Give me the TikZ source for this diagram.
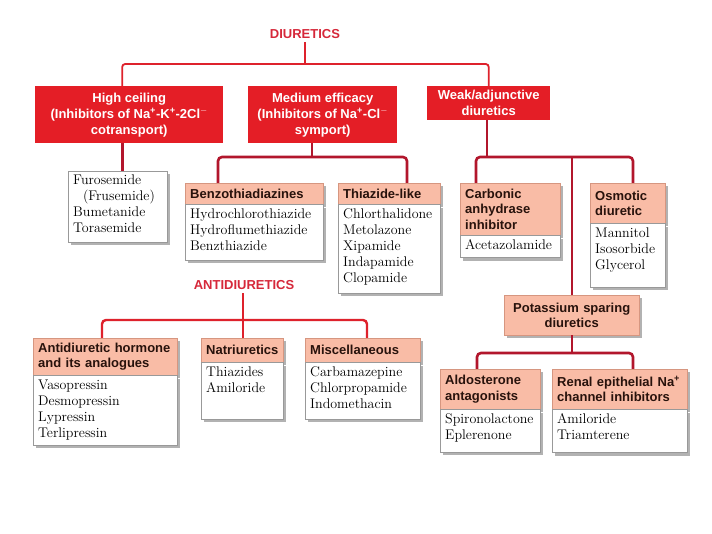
\documentclass[tikz,border=0pt]{standalone}
\usepackage{fontspec}
\setsansfont{Liberation Sans}
\usetikzlibrary{shadows}
\definecolor{diured}{RGB}{228,30,38}
\definecolor{linkred}{RGB}{178,22,44}
\definecolor{toplinkred}{RGB}{222,34,44}
\definecolor{titlered}{RGB}{214,40,58}
\definecolor{salmon}{RGB}{249,188,166}
\definecolor{salmonedge}{RGB}{214,150,128}
\definecolor{headtext}{RGB}{40,18,12}
\newcommand{\padb}[1]{\rule[-#1]{0pt}{#1}}
\tikzset{
    boxshadow/.style={drop shadow={shadow xshift=3pt, shadow yshift=-3pt, fill=black!30, opacity=1}},
    redbox/.style={rectangle, fill=diured, text=white, align=center, anchor=north west, inner sep=2pt, font=\sffamily\bfseries\fontsize{13}{16}\selectfont},
    headbox/.style={rectangle, draw=salmonedge, fill=salmon, text=headtext, align=left, anchor=north west, inner xsep=5pt, inner ysep=3pt, boxshadow, font=\sffamily\bfseries\fontsize{13}{15.5}\selectfont},
    listbox/.style={rectangle, draw=black!40, fill=white, text=black, align=left, anchor=north west, inner xsep=5pt, inner ysep=4pt, boxshadow, font=\fontsize{14}{16}\selectfont},
    titletext/.style={text=titlered, font=\sffamily\bfseries\fontsize{13}{15}\selectfont}
}
\begin{document}
\begin{tikzpicture}[x=1pt, y=-1pt,
    link/.style={draw=linkred, line width=2.6pt, rounded corners=4pt},
    toplink/.style={draw=toplinkred, line width=1.8pt, rounded corners=3pt},
    antilink/.style={draw=toplinkred, line width=2.4pt, rounded corners=4pt}
]
    \useasboundingbox[fill=white] (0,0) rectangle (712,534);

    % Diuretics: first level
    \node[titletext] (diur) at (305,34) {DIURETICS};
    \node[redbox, minimum width=188pt, minimum height=57pt] (high) at (35,86) {High ceiling\\(Inhibitors of Na\textsuperscript{+}-K\textsuperscript{+}-2Cl\textsuperscript{$-$}\\cotransport)};
    \node[redbox, minimum width=149pt, minimum height=57pt] (medium) at (248,86) {Medium efficacy\\(Inhibitors of Na\textsuperscript{+}-Cl\textsuperscript{$-$}\\symport)};
    \node[redbox, minimum width=123pt, minimum height=34pt] (weak) at (427,86) {Weak/adjunctive\\diuretics};

    \coordinate (dj) at (305,64);
    \draw[toplink] (diur.south) -- (dj);
    \draw[toplink] ([xshift=-7pt]high.north) |- (dj) -| (weak.north);

    % High ceiling
    \node[listbox, text width=89pt] (furo) at (68,171) {Furosemide\\\hspace*{0.7em}(Frusemide)\\Bumetanide\\Torasemide\padb{5pt}};
    \draw[link] ([xshift=-7pt]high.south) -- ([xshift=-7pt]high.south |- furo.north);

    % Medium efficacy
    \node[headbox, text width=128pt, minimum height=21pt] (benzo) at (185,183) {Benzothiadiazines};
    \node[listbox, text width=128pt] (benzol) at (benzo.south west) {Hydrochlorothiazide\\Hydroflumethiazide\\Benzthiazide\padb{6pt}};
    \node[headbox, text width=92pt, minimum height=21pt] (thia) at (338,183) {Thiazide-like};
    \node[listbox, text width=92pt] (thial) at (thia.south west) {Chlorthalidone\\Metolazone\\Xipamide\\Indapamide\\Clopamide\padb{7pt}};

    \coordinate (mj) at (312,157);
    \coordinate (bj) at (218,157);
    \coordinate (tj) at (407,157);
    \draw[link] (medium.south -| mj) -- (mj);
    \draw[link] (bj |- benzo.north) -- (bj) -- (tj) -- (tj |- thia.north);

    % Weak/adjunctive
    \node[headbox, text width=90pt, minimum height=52pt] (carb) at (460,183) {Carbonic\\anhydrase\\inhibitor};
    \node[listbox, text width=90pt] (carbl) at (carb.south west) {Acetazolamide\padb{4pt}};
    \node[headbox, text width=65pt, minimum height=40pt] (osm) at (590,183) {Osmotic\\diuretic};
    \node[listbox, text width=65pt] (osml) at (osm.south west) {Mannitol\\Isosorbide\\Glycerol\padb{14pt}};
    \node[headbox, text width=125pt, minimum height=40pt, align=center] (pot) at (504,295) {Potassium sparing\\diuretics};

    \coordinate (wj) at (487,157);
    \coordinate (cj) at (476,157);
    \coordinate (pj) at (572,157);
    \coordinate (oj) at (633,157);
    \draw[link] (weak.south -| wj) -- (wj);
    \draw[link] (cj |- carb.north) -- (cj) -- (oj) -- (oj |- osm.north);
    \draw[link] (pj) -- (pj |- pot.north);

    % Potassium sparing
    \node[headbox, text width=90pt, minimum height=40pt] (aldo) at (440,369) {Aldosterone\\antagonists};
    \node[listbox, text width=90pt] (aldol) at (aldo.south west) {Spironolactone\\Eplerenone\padb{9pt}};
    \node[headbox, text width=125pt, minimum height=40pt] (renal) at (552,369) {Renal epithelial Na\textsuperscript{+}\\channel inhibitors};
    \node[listbox, text width=125pt] (renall) at (renal.south west) {Amiloride\\Triamterene\padb{9pt}};

    \coordinate (kj) at (572,353);
    \coordinate (aj) at (477,353);
    \coordinate (rj) at (633,353);
    \draw[link] (pot.south -| kj) -- (kj);
    \draw[link] (aj |- aldo.north) -- (aj) -- (rj) -- (rj |- renal.north);

    % Antidiuretics
    \node[titletext] (anti) at (244,285) {ANTIDIURETICS};
    \node[headbox, text width=134pt, minimum height=37pt] (adh) at (33,338) {Antidiuretic hormone\\and its analogues};
    \node[listbox, text width=134pt] (adhl) at (adh.south west) {Vasopressin\\Desmopressin\\Lypressin\\Terlipressin\padb{4pt}};
    \node[headbox, text width=72pt, minimum height=24pt] (natri) at (201,338) {Natriuretics};
    \node[listbox, text width=72pt] (natril) at (natri.south west) {Thiazides\\Amiloride\padb{23pt}};
    \node[headbox, text width=105pt, minimum height=24pt] (misc) at (305,338) {Miscellaneous};
    \node[listbox, text width=105pt] (miscl) at (misc.south west) {Carbamazepine\\Chlorpropamide\\Indomethacin\padb{7pt}};

    \coordinate (xj) at (243,320);
    \coordinate (lj) at (102,320);
    \coordinate (sj) at (367,320);
    \draw[antilink] (anti.south -| xj) -- (xj);
    \draw[antilink] (lj |- adh.north) -- (lj) -- (sj) -- (sj |- misc.north);
    \draw[antilink] (xj) -- (xj |- natri.north);
\end{tikzpicture}
\end{document}
